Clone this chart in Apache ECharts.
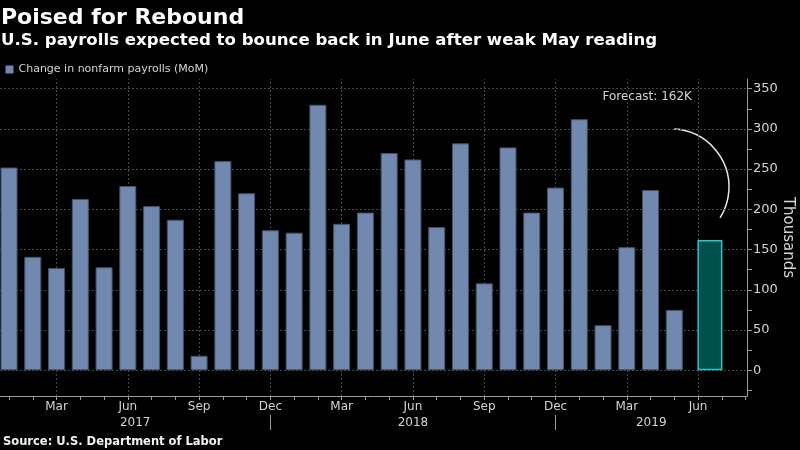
<!DOCTYPE html>
<html><head><meta charset="utf-8">
<script src="https://cdn.jsdelivr.net/npm/echarts@6/dist/echarts.min.js"></script>
<style>html,body{margin:0;padding:0;background:#000}#c{width:800px;height:450px}</style>
</head><body><div id="c"></div>
<script>
// ---- data ----
const months = ['2017-01','2017-02','2017-03','2017-04','2017-05','2017-06','2017-07','2017-08','2017-09','2017-10','2017-11','2017-12',
                '2018-01','2018-02','2018-03','2018-04','2018-05','2018-06','2018-07','2018-08','2018-09','2018-10','2018-11','2018-12',
                '2019-01','2019-02','2019-03','2019-04','2019-05'];
const payrolls = [252,141,127,213,128,229,204,187,18,260,220,174,
                  171,330,182,196,270,262,178,282,108,277,196,227,
                  312,56,153,224,75];
const forecastMonth = '2019-06';
const forecastValue = 162;
const monthNames = ['Jan','Feb','Mar','Apr','May','Jun','Jul','Aug','Sep','Oct','Nov','Dec'];
const labeledMonths = ['Mar','Jun','Sep','Dec'];
const years = ['2017','2018','2019'];
const yLabelValues = [0,50,100,150,200,250,300,350];
const yTickValues = [-25,0,25,50,75,100,125,150,175,200,225,250,275,300,325,350];
const seriesName = 'Change in nonfarm payrolls (MoM)';

// ---- axis ranges ----
const xMin = -0.38, xMax = 31.06;
const yMin = -32, yMax = 362;

const FONT = '"DejaVu Sans"';
const monthIndex = s => { const [y, m] = s.split('-').map(Number); return (y - 2017) * 12 + (m - 1); };

const allTicks = [];
for (let i = Math.ceil(xMin); i <= Math.floor(xMax); i++) allTicks.push(i);
const labelTicks = allTicks.filter(i => labeledMonths.includes(monthNames[i % 12]));
const yearDividers = allTicks.filter(i => i % 12 === 11);
const bounds = [xMin, ...yearDividers, xMax];
const yearMids = years.map((_, k) => (bounds[k] + bounds[k + 1]) / 2);

const gridColor = '#464646';
const axisColor = '#9a9a9a';
const labelColor = '#d4d4d4';

const chart = echarts.init(document.getElementById('c'));
chart.setOption({
  backgroundColor: '#000',
  animation: false,
  grid: { left: 0, right: 53, top: 79, bottom: 54, containLabel: false, outerBoundsMode: 'none' },
  legend: {
    show: true, left: 5.5, top: 64, padding: 0, itemWidth: 8, itemHeight: 8, icon: 'rect',
    data: [seriesName],
    itemStyle: { borderWidth: 0 },
    textStyle: { color: labelColor, fontSize: 11, fontFamily: FONT }
  },
  xAxis: [
    {
      type: 'value', min: xMin, max: xMax, position: 'bottom',
      axisLine: { show: true, onZero: false, lineStyle: { color: axisColor, width: 1 } },
      axisTick: { show: true, customValues: allTicks, length: 4, lineStyle: { color: axisColor } },
      axisLabel: { show: true, customValues: labelTicks, formatter: v => monthNames[Math.round(v) % 12],
                   color: labelColor, fontSize: 12, fontFamily: FONT, margin: 5 },
      splitLine: { show: false }
    },
    {
      type: 'value', min: xMin, max: xMax, position: 'bottom', offset: 19,
      axisLine: { show: false, onZero: false },
      axisTick: { show: true, customValues: yearDividers, length: 15, lineStyle: { color: axisColor } },
      axisLabel: { show: true, customValues: yearMids, formatter: v => years[Math.floor(v / 12)],
                   color: labelColor, fontSize: 12, fontFamily: FONT, margin: 2 },
      splitLine: { show: false }
    }
  ],
  yAxis: {
    type: 'value', min: yMin, max: yMax, position: 'right',
    name: 'Thousands', nameLocation: 'middle', nameRotate: -90, nameGap: 33, nameMoveOverlap: false,
    nameTextStyle: { color: labelColor, fontSize: 15, fontFamily: FONT },
    axisLine: { show: true, onZero: false, lineStyle: { color: axisColor, width: 1 } },
    axisTick: { show: true, customValues: yTickValues, length: 5, lineStyle: { color: axisColor } },
    axisLabel: { show: true, customValues: yLabelValues, color: labelColor, fontSize: 13, fontFamily: FONT, margin: 6 },
    splitLine: { show: false }
  },
  series: [
    {
      type: 'line', data: [], xAxisIndex: 0, yAxisIndex: 0, silent: true, z: 1,
      markLine: {
        silent: true, z: 1, symbol: ['none', 'none'], label: { show: false },
        lineStyle: { color: gridColor, type: [2, 2], width: 1 },
        emphasis: { disabled: true },
        data: [...yLabelValues.map(v => ({ yAxis: v })), ...labelTicks.map(v => ({ xAxis: v }))]
      }
    },
    {
      name: seriesName, type: 'bar', xAxisIndex: 0, yAxisIndex: 0, z: 3,
      barWidth: 17,
      itemStyle: { color: '#7189ae', borderColor: '#44536a', borderWidth: 1 },
      data: months.map((m, i) => [monthIndex(m), payrolls[i]])
    },
    {
      name: 'Forecast', type: 'bar', xAxisIndex: 1, yAxisIndex: 0, z: 3,
      barWidth: 25,
      itemStyle: { color: '#00504e', borderColor: '#29c6c8', borderWidth: 1.5 },
      data: [[monthIndex(forecastMonth) + 0.5, forecastValue]]
    }
  ],
  graphic: [
    { type: 'text', x: 1, y: 18.5, style: { text: 'Poised for Rebound', fill: '#ffffff', font: 'bold 22px ' + FONT, align: 'left', verticalAlign: 'middle' } },
    { type: 'text', x: 1, y: 40.3, style: { text: 'U.S. payrolls expected to bounce back in June after weak May reading', fill: '#ffffff', font: 'bold 16.6px ' + FONT, align: 'left', verticalAlign: 'middle' } },
    { type: 'text', x: 3, y: 441.6, style: { text: 'Source: U.S. Department of Labor', fill: '#f2f2f2', font: 'bold 11.5px ' + FONT, align: 'left', verticalAlign: 'middle' } },
    { type: 'text', x: 602.5, y: 97, style: { text: 'Forecast: ' + forecastValue + 'K', fill: labelColor, font: '12px ' + FONT, align: 'left', verticalAlign: 'middle' } },
    { type: 'arc', shape: { cx: 671, cy: 187, r: 58, startAngle: -1.514, endAngle: 0.562, clockwise: true },
      style: { stroke: '#e8e8e8', lineWidth: 1.5, fill: null } }
  ]
});
</script>
</body></html>
